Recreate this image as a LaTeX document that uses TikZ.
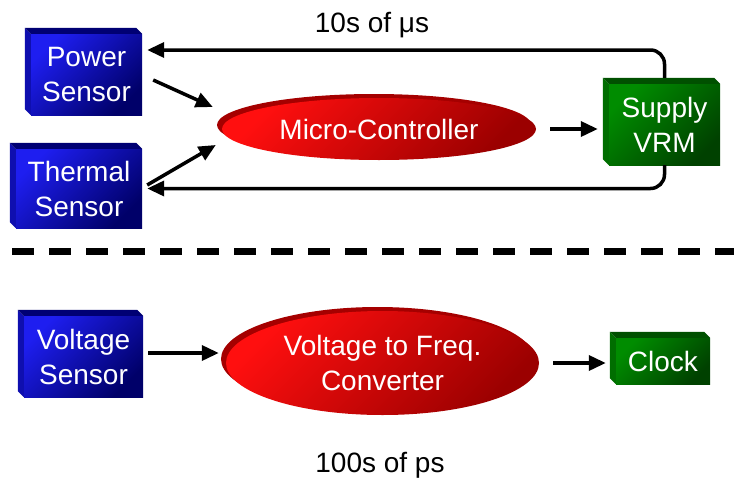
\documentclass[tikz,border=0pt]{standalone}
\usepackage{fontspec}
\setmainfont{Liberation Sans}
\usetikzlibrary{arrows.meta,shapes.geometric,shadows}

\definecolor{sensorhi}{RGB}{30,30,240}
\definecolor{sensorlo}{RGB}{0,0,105}
\definecolor{topsensor}{RGB}{0,0,115}
\definecolor{sidesensor}{RGB}{15,15,175}
\definecolor{supplyhi}{RGB}{0,140,0}
\definecolor{supplylo}{RGB}{0,65,0}
\definecolor{topsupply}{RGB}{0,80,0}
\definecolor{sidesupply}{RGB}{0,110,0}
\definecolor{ctrlhi}{RGB}{255,15,15}
\definecolor{ctrllo}{RGB}{155,0,0}
\definecolor{ctrlrim}{RGB}{165,0,0}

\begin{document}
\begin{tikzpicture}[x=1pt, y=-1pt, >={Triangle[length=17pt,width=15pt]},
  font=\fontsize{28}{35}\selectfont,
  cube/.style={inner sep=0pt, align=center, text=white},
  sensor/.style={cube, top color=sensorhi, bottom color=sensorlo, shading angle=45},
  supply/.style={cube, top color=supplyhi, bottom color=supplylo, shading angle=45},
  ctrl/.style={ellipse, inner sep=0pt, align=center, text=white,
    top color=ctrlhi, bottom color=ctrllo, shading angle=45,
    general shadow={fill=ctrlrim, shadow xshift=-5pt, shadow yshift=4pt}},
  flow/.style={->, line width=3.5pt},
  lbl/.style={anchor=base, inner sep=0pt},
]
\useasboundingbox (0,0) rectangle (734,482);

% ---------------------------------------------------------------- slow loop
\node[sensor, minimum width=111, minimum height=81] (pow) at (86.5,74.5) {Power\\Sensor};
\node[sensor, minimum width=126, minimum height=79] (tm) at (79,188.5) {Thermal\\Sensor};
\node[ctrl, minimum width=314, minimum height=62] (mc) at (379,129) {Micro-Controller};
\node[supply, minimum width=111, minimum height=81] (vrm) at (664.5,124.5) {Supply\\VRM};
\coordinate (fbtop) at (0,50);
\node[lbl] (slow) at (372,32) {10s of μs};

% ---------------------------------------------------------------- fast loop
\node[sensor, minimum width=119, minimum height=81] (vs) at (83.5,356.5) {Voltage\\Sensor};
\node[ctrl, minimum width=313, minimum height=104] (vf) at (382.5,363) {Voltage to Freq.\\Converter};
\node[supply, minimum width=94, minimum height=46] (clk) at (663,361) {Clock};
\node[lbl] (fast) at (380,472) {100s of ps};

% bevels of the boxes
\foreach \n/\c in {pow/sensor, tm/sensor, vs/sensor, vrm/supply, clk/supply} {
  \fill[fill=side\c] (\n.north west) -- ++(-6,-6) -- ([shift={(-6,-6)}]\n.south west) -- (\n.south west) -- cycle;
  \fill[fill=top\c] (\n.north west) -- ++(-6,-6) -- ([shift={(-6,-6)}]\n.north east) -- (\n.north east) -- cycle;
}

\draw[flow] ([shift={(11,5.5)}]pow.east) -- ([shift={(-9,-22)}]mc.west);
\draw[flow] ([shift={(5,-3.5)}]tm.east) -- ([shift={(-6,16)}]mc.west);
\draw[flow, shorten <=14pt, shorten >=11pt] (mc.east) -- (mc.east -| vrm.west);
\draw[flow, rounded corners=14pt, shorten >=5pt] ([yshift=6pt]vrm.north) |- (pow.east |- fbtop);
\draw[flow, rounded corners=14pt, shorten >=5pt] (vrm.south) |- (tm.east);

\draw[line width=7pt, dash pattern=on 22pt off 15pt] (12,251) -- (734,251);

\draw[flow] ([shift={(5,-3.5)}]vs.east) -- ([shift={(-7,-10)}]vf.west);
\draw[flow, shorten <=14pt, shorten >=10pt] (vf.east) -- (vf.east -| clk.west);
\end{tikzpicture}
\end{document}
